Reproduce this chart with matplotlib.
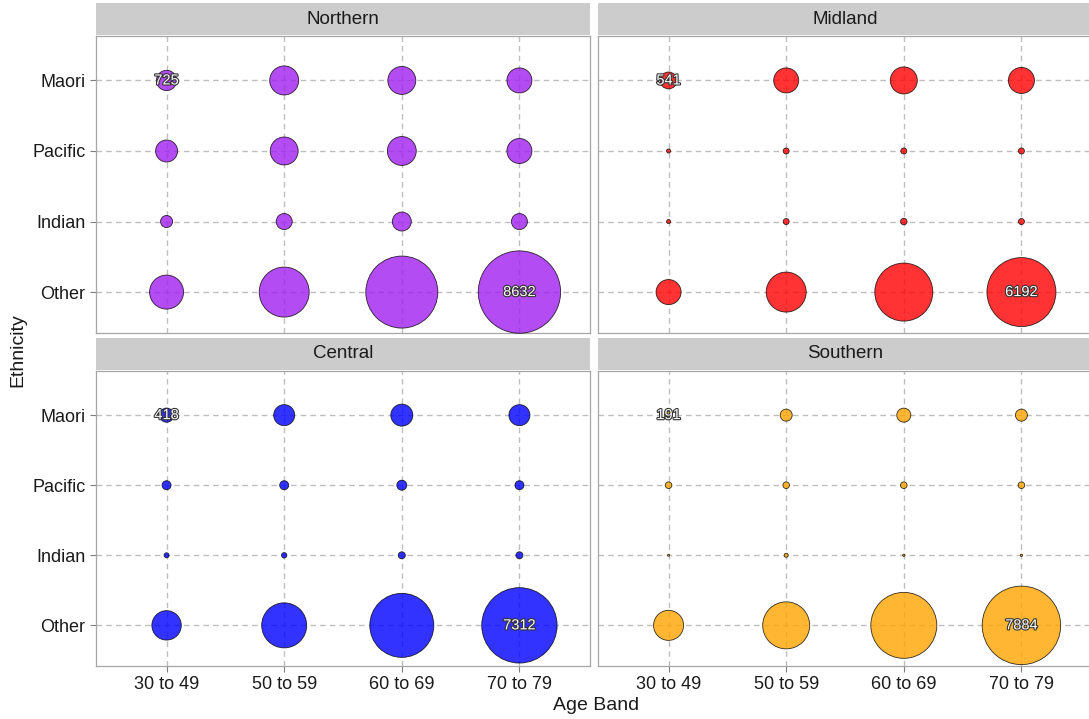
import numpy as np
import matplotlib
matplotlib.use("Agg")
import matplotlib.pyplot as plt
import matplotlib.patheffects as pe

plt.rcParams['font.family'] = ['Liberation Sans', 'DejaVu Sans']

age_bands = ["30 to 49", "50 to 59", "60 to 69", "70 to 79"]
# bottom to top on the y axis
ethnicities = ["Other", "Indian", "Pacific", "Maori"]

regions = ["Northern", "Midland", "Central", "Southern"]
region_colours = ["#A020F0", "#FF0000", "#0000FF", "#FFA500"]

# patient counts: one row per ethnicity (same order as above), one column per age band
northern = [
    [1720, 3420, 6710, 8632],
    [330, 500, 650, 500],
    [825, 1230, 1300, 1020],
    [725, 1310, 1230, 1020],
]
midland = [
    [1020, 2290, 4490, 6192],
    [92, 137, 150, 137],
    [92, 137, 137, 137],
    [541, 1020, 1160, 1090],
]
central = [
    [1340, 2830, 5390, 7312],
    [113, 122, 163, 163],
    [222, 222, 255, 222],
    [418, 765, 825, 765],
]
southern = [
    [1390, 3060, 5700, 7884],
    [55, 92, 60, 60],
    [152, 152, 152, 152],
    [191, 327, 410, 327],
]
counts = [northern, midland, central, southern]

# cells that carry a value label (ethnicity, age band)
label_cells = [("Maori", "30 to 49"), ("Other", "70 to 79")]

W, H = 1089, 719
fig = plt.figure(figsize=(W / 100, H / 100), dpi=100)

col_x = [96, 598]
panel_w = 494
row_y = [(3, 36, 333), (338, 371, 666)]  # strip top, panel top, panel bottom


def frac_box(x0, y0, x1, y1):
    return [x0 / W, 1 - y1 / H, (x1 - x0) / W, (y1 - y0) / H]


def bubble_size(v):
    # radius in pixels grows with sqrt of the count, then converted to scatter area (pt^2)
    r_px = 0.47 * np.sqrt(np.asarray(v, dtype=float)) - 2.5
    r_pt = r_px * 72 / 100
    return (2 * r_pt) ** 2


xs = np.arange(1, len(age_bands) + 1)
ys = np.arange(1, len(ethnicities) + 1)
grid_col = "#BEBEBE"
border_col = "#A6A6A6"

for i, (name, colour, data) in enumerate(zip(regions, region_colours, counts)):
    r, c = divmod(i, 2)
    x0 = col_x[c]
    st, pt, pb = row_y[r]

    sax = fig.add_axes(frac_box(x0, st, x0 + panel_w, pt - 1))
    sax.set_facecolor("#CCCCCC")
    sax.set_xticks([]); sax.set_yticks([])
    for s in sax.spines.values():
        s.set_visible(False)
    sax.text(0.5, 0.5, name, ha="center", va="center", fontsize=13.5, color="#1A1A1A",
             transform=sax.transAxes)

    ax = fig.add_axes(frac_box(x0, pt, x0 + panel_w, pb))
    ax.set_xlim(0.4, 4.6)
    ax.set_ylim(0.42, 4.63)
    ax.set_xticks(xs)
    ax.set_yticks(ys)
    for v in xs:
        ax.axvline(v, color=grid_col, lw=1.0, ls=(0, (4, 3)), zorder=0)
    for v in ys:
        ax.axhline(v, color=grid_col, lw=1.0, ls=(0, (4, 3)), zorder=0)
    for s in ax.spines.values():
        s.set_color(border_col)
        s.set_linewidth(0.9)

    gx, gy = np.meshgrid(xs, ys)
    vals = np.array(data)
    ax.scatter(gx.ravel(), gy.ravel(), s=bubble_size(vals.ravel()), color=colour, alpha=0.8,
               edgecolors="black", linewidths=0.6, zorder=3, clip_on=False)

    for eth, band in label_cells:
        yi = ethnicities.index(eth)
        xi = age_bands.index(band)
        ax.text(xs[xi], ys[yi], str(data[yi][xi]), ha="center", va="center",
                fontsize=10.5, color="white", zorder=4,
                path_effects=[pe.withStroke(linewidth=1.6, foreground="#333333")])

    ax.tick_params(colors="#7F7F7F", length=4, width=0.8, labelsize=13, labelcolor="#1A1A1A")
    if c == 0:
        ax.set_yticklabels(ethnicities)
    else:
        ax.tick_params(axis="y", length=0, labelleft=False)
    if r == 1:
        ax.set_xticklabels(age_bands)
    else:
        ax.tick_params(axis="x", length=0, labelbottom=False)

fig.text(18 / W, 1 - 350 / H, "Ethnicity", rotation=90, ha="center", va="center", fontsize=14,
         color="#1A1A1A")
fig.text(596 / W, 1 - 706 / H, "Age Band", ha="center", va="center", fontsize=14,
         color="#1A1A1A")

fig.savefig("out.png", dpi=100, facecolor="white")
